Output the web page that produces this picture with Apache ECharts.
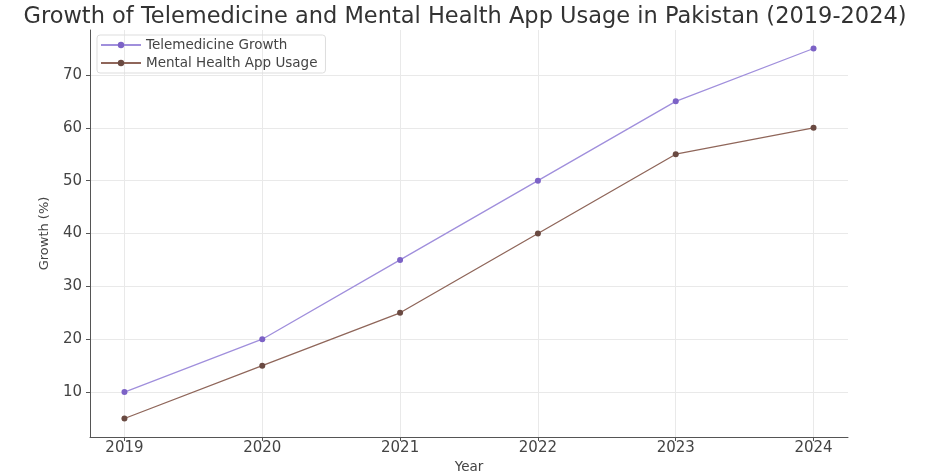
<!DOCTYPE html>
<html>
<head>
<meta charset="utf-8">
<script src="https://cdn.jsdelivr.net/npm/echarts@6/dist/echarts.min.js"></script>
<style>
  html, body { margin: 0; padding: 0; background: #fff; }
  #chart { width: 930px; height: 473px; }
</style>
</head>
<body>
<div id="chart"></div>
<script>
// Yearly growth figures (%)
const years = [2019, 2020, 2021, 2022, 2023, 2024];
const telemedicine = [10, 20, 35, 50, 65, 75];
const mentalHealth = [5, 15, 25, 40, 55, 60];
const yTicks = [10, 20, 30, 40, 50, 60, 70];

const chart = echarts.init(document.getElementById('chart'));
const font = 'DejaVu Sans';
const pairs = (ys) => years.map((y, i) => [y, ys[i]]);

chart.setOption({
  animation: false,
  textStyle: { fontFamily: font },
  title: {
    text: 'Growth of Telemedicine and Mental Health App Usage in Pakistan (2019-2024)',
    left: 'center',
    top: 1,
    textStyle: { fontFamily: font, fontSize: 22.5, fontWeight: 'normal', color: '#333' }
  },
  legend: {
    left: 97, top: 35,
    orient: 'vertical',
    itemGap: 4,
    itemWidth: 40, itemHeight: 8,
    padding: [3, 8, 3, 3],
    borderColor: '#ddd', borderWidth: 1, borderRadius: 3,
    textStyle: { fontFamily: font, fontSize: 13.5, color: '#444' },
    data: ['Telemedicine Growth', 'Mental Health App Usage']
  },
  grid: { left: 90, right: 82, top: 30, bottom: 36, outerBoundsMode: 'none', containLabel: false },
  xAxis: {
    type: 'value',
    min: 2018.75, max: 2024.25,
    name: 'Year', nameLocation: 'middle', nameGap: 22,
    nameTextStyle: { fontFamily: font, fontSize: 13.5, color: '#444' },
    axisLine: { show: true, lineStyle: { color: '#555', width: 1 } },
    axisTick: { show: true, customValues: years, length: 4, lineStyle: { color: '#555' } },
    axisLabel: { customValues: years, fontFamily: font, fontSize: 15, color: '#444', margin: 4, formatter: v => String(v) },
    splitLine: { show: false }
  },
  yAxis: {
    type: 'value',
    min: 1.5, max: 78.5,
    name: 'Growth (%)', nameLocation: 'middle', nameGap: 39,
    nameTextStyle: { fontFamily: font, fontSize: 13, color: '#444' },
    axisLine: { show: true, lineStyle: { color: '#555', width: 1 } },
    axisTick: { show: true, customValues: yTicks, length: 4, lineStyle: { color: '#555' } },
    axisLabel: { customValues: yTicks, fontFamily: font, fontSize: 15, color: '#444', margin: 8 },
    splitLine: { show: false }
  },
  series: [
    {
      // carries the light grid lines beneath the data lines
      name: 'grid',
      type: 'line',
      data: [],
      silent: true,
      z: 1,
      markLine: {
        z: 0,
        silent: true, symbol: 'none', label: { show: false },
        lineStyle: { color: '#e9e9e9', width: 1, type: 'solid' },
        emphasis: { disabled: true },
        data: years.map(y => ({ xAxis: y })).concat(yTicks.map(v => ({ yAxis: v })))
      }
    },
    {
      name: 'Telemedicine Growth',
      type: 'line',
      data: pairs(telemedicine),
      symbol: 'circle', symbolSize: 6,
      lineStyle: { color: '#a08fdc', width: 1.3 },
      itemStyle: { color: '#7c62c6' },
      z: 3
    },
    {
      name: 'Mental Health App Usage',
      type: 'line',
      data: pairs(mentalHealth),
      symbol: 'circle', symbolSize: 6,
      lineStyle: { color: '#8f665a', width: 1.3 },
      itemStyle: { color: '#6a4a42' },
      z: 3
    }
  ]
});
</script>
</body>
</html>
